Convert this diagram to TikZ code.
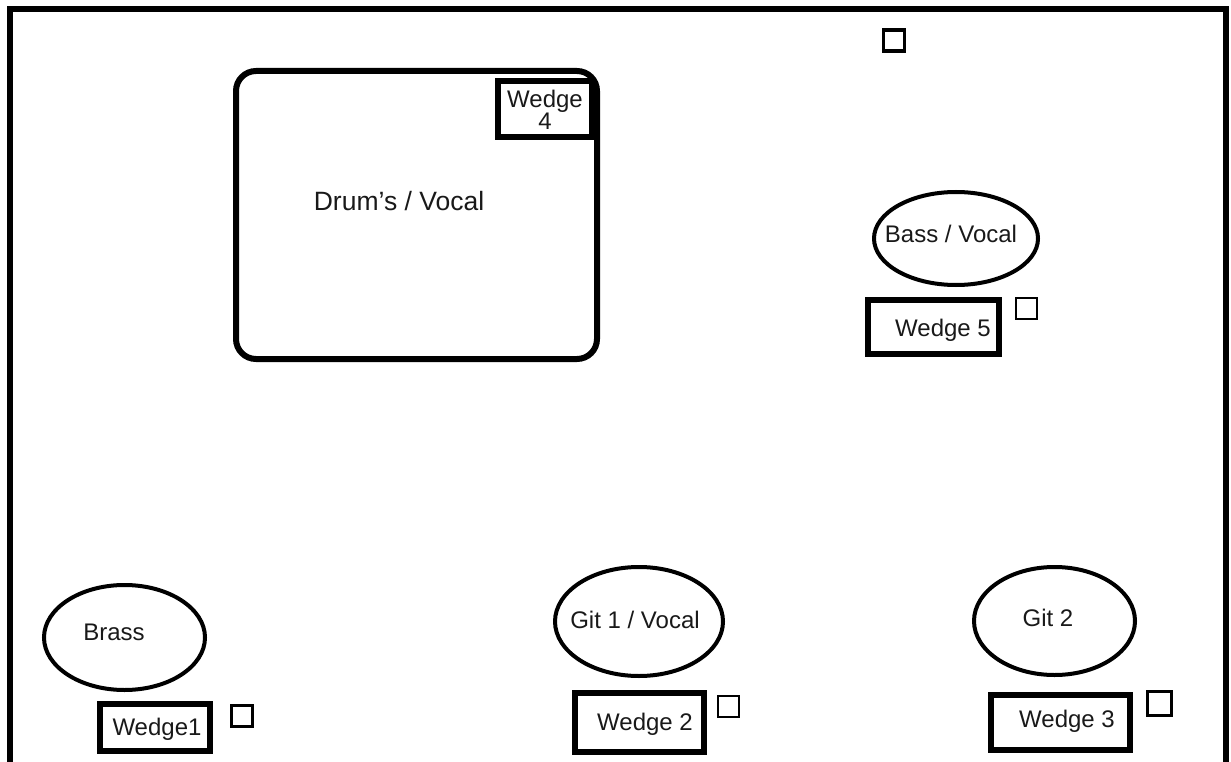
\documentclass[tikz,border=0pt]{standalone}
\usepackage{fontspec}
\setmainfont{Liberation Sans}
\usetikzlibrary{shapes.geometric}

\begin{document}
\begin{tikzpicture}[x=1pt, y=-1pt]
  % Define styles
  \tikzset{
    stageedge/.style={line width=6pt},
    riser/.style={draw, line width=6pt, rounded corners=20pt, inner sep=0pt},
    player/.style={draw, ellipse, line width=4pt, inner sep=0pt},
    wedgebox/.style={draw, line width=6pt, inner sep=0pt},
    mic/.style={draw, line width=3pt, minimum size=21pt, inner sep=0pt},
    tag/.style={font=\fontsize{24}{21}\selectfont, text=black!90, inner sep=0pt, text height=17pt, text depth=0pt},
    tagtwo/.style={font=\fontsize{24}{21}\selectfont, text=black!90, inner sep=0pt, align=center}
  }
  \useasboundingbox (0,0) rectangle (1231,762);
  % Stage outline, open at the front
  \draw[stageedge] (10,775) -- (10,9) -- (1226,9) -- (1226,775);

  % Drum riser (back left)
  \node[riser, minimum width=361pt, minimum height=288pt] (drums) at (416.5,215) {};
  \node[tag, font=\fontsize{26.5}{22}\selectfont, text height=19pt] (drumstxt) at (399,201) {Drum’s / Vocal};
  \node[wedgebox, minimum width=94pt, minimum height=56pt] (w4) at (545,109) {};
  \node[tagtwo] (w4txt) at (545,110) {Wedge\\4};
  \node[mic, line width=3.5pt] (m0) at (894,40.5) {};

  % Bass (back right)
  \node[player, minimum width=164pt, minimum height=93pt] (bass) at (956,238.5) {};
  \node[tag] (basstxt) at (951,233.5) {Bass / Vocal};
  \node[wedgebox, minimum width=131pt, minimum height=54pt] (w5) at (933.5,327) {};
  \node[tag] (w5txt) at (943,328) {Wedge 5};
  \node[mic, line width=2.5pt] (m5) at (1026.5,308.5) {};

  % Front line
  \node[player, minimum width=161pt, minimum height=105pt] (brass) at (124.5,637.5) {};
  \node[tag] (brasstxt) at (114,632) {Brass};
  \node[wedgebox, minimum width=110pt, minimum height=47pt] (w1) at (155,727) {};
  \node[tag] (w1txt) at (157,727) {Wedge1};
  \node[mic, line width=2.5pt] (m1) at (242,716) {};

  \node[player, minimum width=168pt, minimum height=109pt] (git1) at (639,621.5) {};
  \node[tag] (git1txt) at (635,620) {Git 1 / Vocal};
  \node[wedgebox, minimum width=129pt, minimum height=59pt] (w2) at (639.5,722.5) {};
  \node[tag] (w2txt) at (645,722) {Wedge 2};
  \node[mic, line width=2.5pt] (m2) at (728.5,706.5) {};

  \node[player, minimum width=161pt, minimum height=108pt] (git2) at (1054.5,621) {};
  \node[tag] (git2txt) at (1048,618) {Git 2};
  \node[wedgebox, minimum width=139pt, minimum height=55pt] (w3) at (1060.5,722.5) {};
  \node[tag] (w3txt) at (1067,719) {Wedge 3};
  \node[mic, line width=2.5pt, minimum size=24pt] (m3) at (1159.5,703.5) {};
\end{tikzpicture}
\end{document}
